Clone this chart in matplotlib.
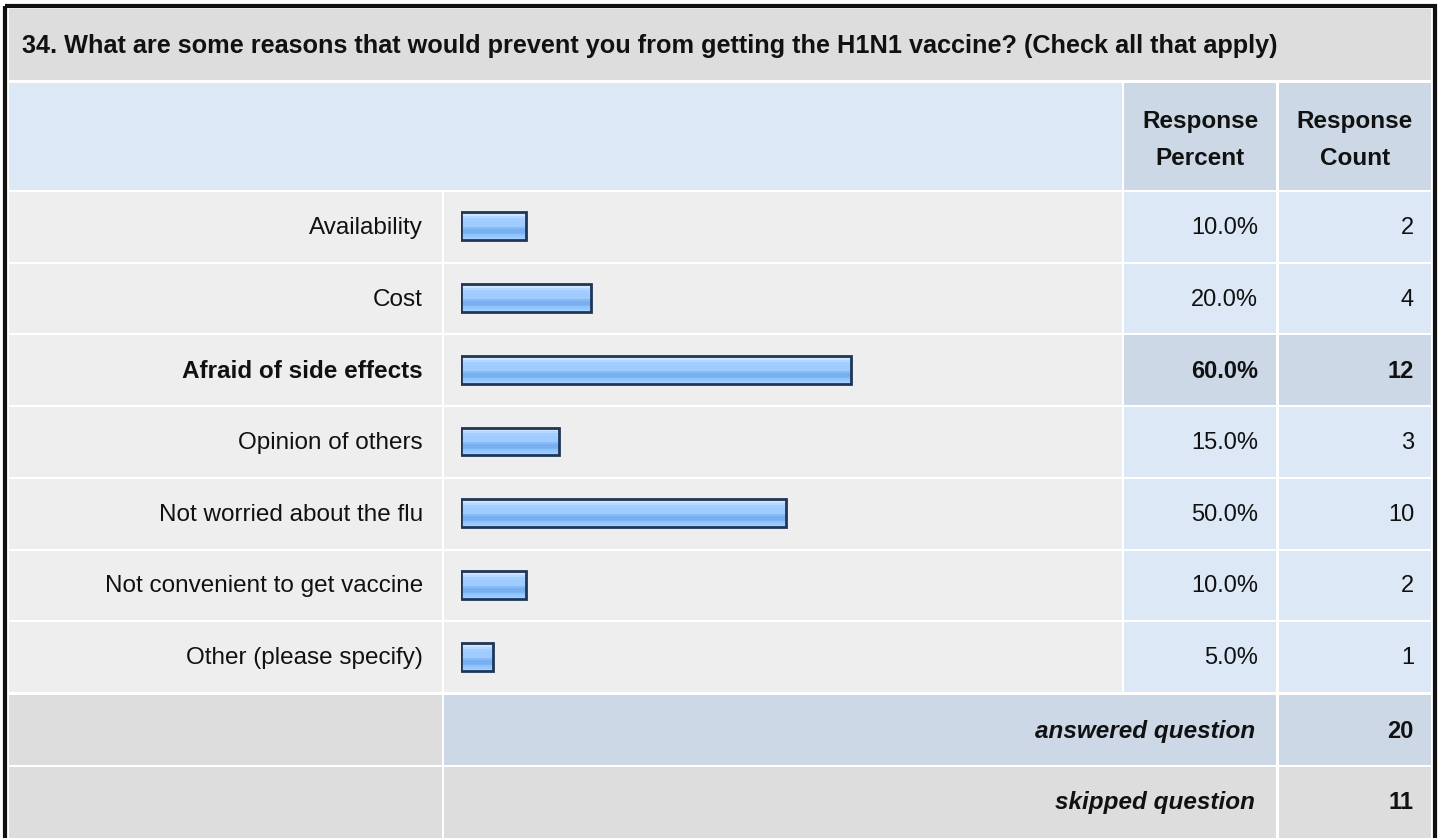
import matplotlib
matplotlib.use("Agg")
import matplotlib.pyplot as plt
from matplotlib.patches import Rectangle
import numpy as np
from matplotlib.colors import to_rgb

plt.rcParams['font.family'] = ['Liberation Sans', 'DejaVu Sans']

title = "34. What are some reasons that would prevent you from getting the H1N1 vaccine? (Check all that apply)"
categories = ["Availability", "Cost", "Afraid of side effects", "Opinion of others",
              "Not worried about the flu", "Not convenient to get vaccine", "Other (please specify)"]
percents = [10.0, 20.0, 60.0, 15.0, 50.0, 10.0, 5.0]
counts = [2, 4, 12, 3, 10, 2, 1]
answered = 20
skipped = 11
col_headers = ["Response\nPercent", "Response\nCount"]

W, H = 1440, 838
fig = plt.figure(figsize=(W / 100, H / 100), dpi=100)
fig.patch.set_facecolor('white')
ax = fig.add_axes([0, 0, 1, 1])
ax.set_xlim(0, W)
ax.set_ylim(H, 0)
ax.axis('off')

GRAY = '#dddddd'
LIGHT = '#eeeeee'
BLUE1 = '#dce8f5'
BLUE2 = '#ccd8e5'
TXT = '#111111'
FS = 17.5
FSN = 17

def cell(x0, x1, y0, y1, color):
    ax.add_patch(Rectangle((x0, y0), x1 - x0, y1 - y0, facecolor=color, edgecolor='none', zorder=1))

# column boundaries
L0, L1 = 9, 442
B0, B1 = 444, 1122
P0, P1 = 1124, 1276
C0, C1 = 1279, 1431

# title row
cell(L0, C1, 9, 80, GRAY)
ax.text(22, 46, title, fontsize=18.2, fontweight='bold', ha='left', va='center', color=TXT)

# header row
cell(L0, B1, 83, 190, BLUE1)
cell(P0, P1, 83, 190, BLUE2)
cell(C0, C1, 83, 190, BLUE2)
ax.text((P0 + P1) / 2, 140, col_headers[0], fontsize=FS, fontweight='bold', ha='center', va='center',
        color=TXT, linespacing=1.75)
ax.text((C0 + C1) / 2, 140, col_headers[1], fontsize=FS, fontweight='bold', ha='center', va='center',
        color=TXT, linespacing=1.75)

# data rows
n = len(categories)
top = 192
bottom = 694
step = (bottom - top) / n
hi = int(np.argmax(percents))
for i, (cat, p, c) in enumerate(zip(categories, percents, counts)):
    y0 = top + i * step
    y1 = y0 + step - 2
    yc = (y0 + y1) / 2
    bold = (i == hi)
    vc = BLUE2 if bold else BLUE1
    cell(L0, L1, y0, y1, LIGHT)
    cell(B0, B1, y0, y1, LIGHT)
    cell(P0, P1, y0, y1, vc)
    cell(C0, C1, y0, y1, vc)
    fw = 'bold' if bold else 'normal'
    ax.text(423, yc + 1, cat, fontsize=FS, fontweight=fw, ha='right', va='center', color=TXT)
    ax.text(1258, yc + 1, f"{p:.1f}%", fontsize=FSN, fontweight=fw, ha='right', va='center', color=TXT)
    ax.text(1414, yc + 1, f"{c}", fontsize=FSN, fontweight=fw, ha='right', va='center', color=TXT)

# summary rows
ay0, ay1 = 695, 765
cell(L0, L1, ay0, ay1, GRAY)
cell(B0, P1, ay0, ay1, BLUE2)
cell(C0, C1, ay0, ay1, BLUE2)
ax.text(1255, (ay0 + ay1) / 2 + 1, "answered question", fontsize=FS, fontweight='bold', style='italic',
        ha='right', va='center', color=TXT)
ax.text(1414, (ay0 + ay1) / 2 + 1, f"{answered}", fontsize=FSN, fontweight='bold', ha='right', va='center', color=TXT)

sy0, sy1 = 767, 840
cell(L0, L1, sy0, sy1, GRAY)
cell(B0, P1, sy0, sy1, GRAY)
cell(C0, C1, sy0, sy1, GRAY)
ax.text(1255, 802, "skipped question", fontsize=FS, fontweight='bold', style='italic',
        ha='right', va='center', color=TXT)
ax.text(1414, 802, f"{skipped}", fontsize=FSN, fontweight='bold', ha='right', va='center', color=TXT)

# outer border
ax.add_patch(Rectangle((5, 6), 1430, 850, facecolor='none', edgecolor='#111111', linewidth=3, zorder=5))

# bar axes
bx0 = 461
bw = 650
axb = fig.add_axes([bx0 / W, 1 - bottom / H, bw / W, (bottom - top) / H])
axb.set_xlim(0, 100)
axb.set_ylim(n - 0.5, -0.5)
axb.axis('off')
axb.patch.set_alpha(0)
axb.set_autoscale_on(False)

stripe_cols = ['#cde4ff', '#cde4ff', '#b4d7ff', '#a3ceff', '#a3ceff', '#9fcbff', '#9fcbff',
               '#9fcbff', '#86baf4', '#78aff0', '#78aff0', '#7cb3f2', '#8fc3ff', '#97c8ff', '#a6d2ff']
grad = np.array([[to_rgb(c)] for c in stripe_cols])
bh = 0.39
for i, p in enumerate(percents):
    yc = i - 1.5 / step
    axb.imshow(grad, extent=(0, p, yc + bh / 2, yc - bh / 2), aspect='auto',
               interpolation='nearest', zorder=2)
    axb.barh(yc, p, height=bh, left=0, fill=False, edgecolor='#1f3657', linewidth=2, zorder=3)

axb.set_xlim(0, 100)
axb.set_ylim(n - 0.5, -0.5)

fig.savefig('out.png', dpi=100, facecolor='white')
